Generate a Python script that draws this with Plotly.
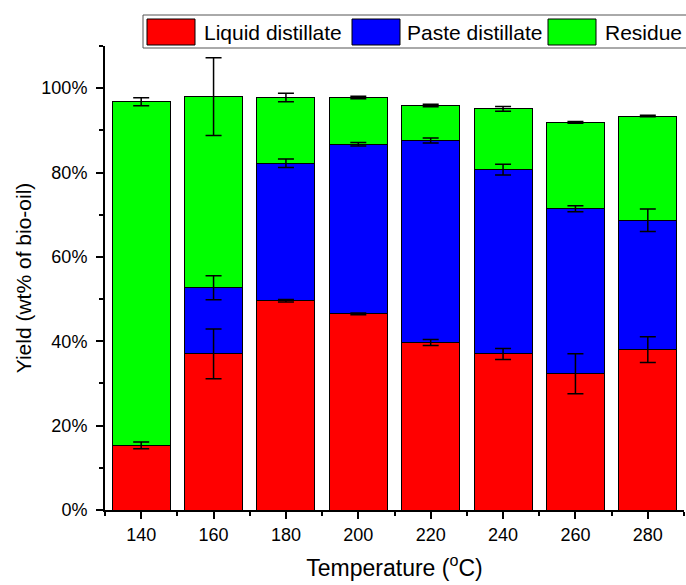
import plotly.graph_objects as go

# Bio-oil distillation yields by temperature (wt% of bio-oil)
temperature = [140, 160, 180, 200, 220, 240, 260, 280]
liquid = [15.3, 37.0, 49.6, 46.5, 39.7, 37.0, 32.3, 38.0]
liquid_err = [0.8, 5.9, 0.3, 0.2, 0.7, 1.3, 4.75, 3.05]
paste = [None, 15.7, 32.6, 40.2, 47.9, 43.7, 39.1, 30.7]
paste_err = [None, 2.85, 1.0, 0.4, 0.6, 1.27, 0.7, 2.65]
residue = [81.5, 45.3, 15.6, 11.1, 8.3, 14.4, 20.5, 24.7]
residue_err = [0.95, 9.2, 1.0, 0.3, 0.3, 0.55, 0.2, 0.2]

series_names = ["Liquid distillate", "Paste distillate", "Residue"]
series_colors = ["#FF0000", "#0000FF", "#00FF00"]
y_ticks = [0, 20, 40, 60, 80, 100]
y_tick_labels = ["0%", "20%", "40%", "60%", "80%", "100%"]

FONT = "Liberation Sans, Arial, sans-serif"

series_vals = [liquid, paste, residue]
series_errs = [liquid_err, paste_err, residue_err]

fig = go.Figure()
for name, vals, color in zip(series_names, series_vals, series_colors):
    fig.add_trace(go.Bar(
        x=temperature, y=vals, name=name, width=16,
        marker=dict(color=color, line=dict(color="black", width=1)),
        showlegend=False, hoverinfo="skip",
    ))

# error bars sit on the top of each stacked segment, drawn above all bars
running = [0.0] * len(temperature)
for vals, errs in zip(series_vals, series_errs):
    xs, tops, es = [], [], []
    for i, (v, e) in enumerate(zip(vals, errs)):
        if v is None:
            continue
        running[i] += v
        xs.append(temperature[i])
        tops.append(running[i])
        es.append(e)
    fig.add_trace(go.Scatter(
        x=xs, y=tops, mode="markers",
        marker=dict(size=1, color="rgba(0,0,0,0)"),
        error_y=dict(type="data", array=es, visible=True,
                     color="black", thickness=1.5, width=8),
        showlegend=False, hoverinfo="skip",
    ))

# legend drawn as a framed row of large swatches above the plot
L, R, T, B, W, H = 105, 2, 46, 75, 686, 585
pw, ph = W - L - R, H - T - B


def px(x):
    return (x - L) / pw


def py(y):
    return (H - B - y) / ph


shapes = [dict(type="rect", xref="paper", yref="paper",
               x0=px(143), x1=px(700), y0=py(48), y1=py(15),
               line=dict(color="#555555", width=1), fillcolor="white")]
annotations = []
sw_x = [147, 352, 548]
tx_x = [202, 405, 603]
for sx, tx, name, color in zip(sw_x, tx_x, series_names, series_colors):
    shapes.append(dict(type="rect", xref="paper", yref="paper",
                       x0=px(sx), x1=px(sx + 48), y0=py(45), y1=py(19),
                       line=dict(color="black", width=1), fillcolor=color))
    annotations.append(dict(xref="paper", yref="paper", x=px(tx), y=py(32),
                            text=name, showarrow=False, xanchor="left",
                            yanchor="middle",
                            font=dict(family=FONT, size=21, color="black")))

fig.update_layout(
    width=W, height=H,
    margin=dict(l=L, r=R, t=T, b=B),
    paper_bgcolor="white", plot_bgcolor="white",
    barmode="stack",
    font=dict(family=FONT, color="black"),
    shapes=shapes, annotations=annotations,
)
fig.update_xaxes(
    range=[130, 290], tickvals=temperature,
    ticks="outside", ticklen=7, tickwidth=2, tickcolor="black",
    minor=dict(dtick=10, tick0=130, ticks="outside", ticklen=4,
               tickwidth=2, tickcolor="black"),
    showline=True, linecolor="black", linewidth=2, showgrid=False,
    zeroline=False, tickfont=dict(size=18),
    title=dict(text="Temperature (<sup>o</sup>C)", font=dict(size=23),
               standoff=16),
)
fig.update_yaxes(
    range=[0, 110], tickvals=y_ticks, ticktext=y_tick_labels,
    ticks="outside", ticklen=7, tickwidth=2, tickcolor="black",
    ticklabelstandoff=5,
    minor=dict(dtick=10, tick0=0, ticks="outside", ticklen=4,
               tickwidth=2, tickcolor="black"),
    showline=True, linecolor="black", linewidth=2, showgrid=False,
    zeroline=False, tickfont=dict(size=18),
    title=dict(text="Yield (wt% of bio-oil)", font=dict(size=21),
               standoff=4),
)

fig.write_html("out.html")
